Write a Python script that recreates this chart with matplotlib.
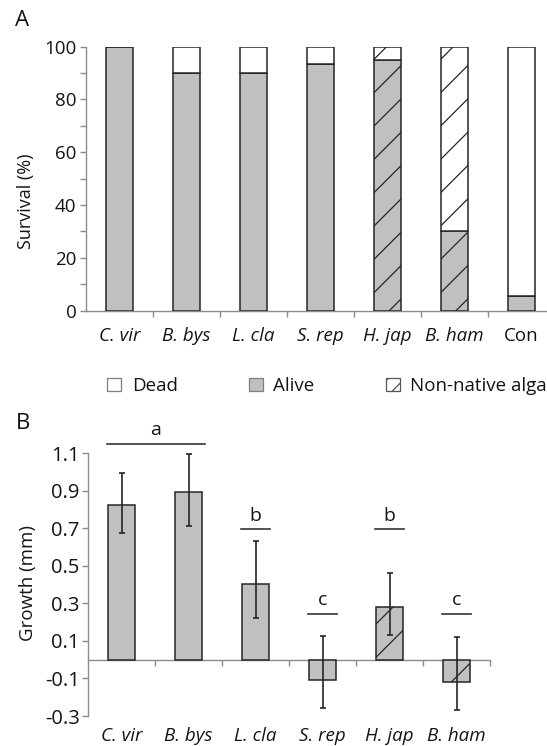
import matplotlib
matplotlib.use('Agg')
import matplotlib.pyplot as plt
from matplotlib.patches import Patch
from matplotlib.ticker import MultipleLocator, FixedLocator

plt.rcParams['font.family'] = ['Open Sans', 'DejaVu Sans']
plt.rcParams['hatch.linewidth'] = 0.9

# ---------------- Panel A data ----------------
species_a = ['C. vir', 'B. bys', 'L. cla', 'S. rep', 'H. jap', 'B. ham', 'Con']
alive = [100, 90, 90, 93.3, 95, 30, 5.6]
nonnative = [0, 0, 0, 0, 5, 70, 0]
dead = [0, 10, 10, 6.7, 0, 0, 94.4]
hatched_a = [False, False, False, False, True, True, False]
italic_a = [True, True, True, True, True, True, False]

# ---------------- Panel B data ----------------
species_b = ['C. vir', 'B. bys', 'L. cla', 'S. rep', 'H. jap', 'B. ham']
growth = [0.823, 0.893, 0.402, -0.109, 0.28, -0.118]
err_low = [0.148, 0.18, 0.181, 0.146, 0.148, 0.149]
err_high = [0.17, 0.203, 0.23, 0.234, 0.181, 0.237]
hatched_b = [False, False, False, False, True, True]
# (first bar, last bar, letter, line height)
sig_groups = [(0, 1, 'a', 1.15), (2, 2, 'b', 0.695), (3, 3, 'c', 0.246),
              (4, 4, 'b', 0.695), (5, 5, 'c', 0.246)]

GREY = '#c0c0c0'
EDGE = '#262626'
AXC = '#8c8c8c'
TXT = '#141414'
W, H = 547, 746

fig = plt.figure(figsize=(W / 100, H / 100), dpi=100)

# ---------------- Panel A ----------------
axA = fig.add_axes([86 / W, 1 - 310.5 / H, 469 / W, (310.5 - 46.7) / H])
xa = [i + 0.5 for i in range(len(species_a))]
bw = 0.4
axA.bar(xa, alive, bw, color=GREY, edgecolor=EDGE, linewidth=1.1,
        hatch=['/' if h else None for h in hatched_a], zorder=3)
bottom2 = alive
axA.bar(xa, nonnative, bw, bottom=bottom2, color='white', edgecolor=EDGE,
        linewidth=1.1, hatch=['/' if h else None for h in hatched_a], zorder=3)
bottom3 = [a + n for a, n in zip(alive, nonnative)]
dead_x = [x for x, d in zip(xa, dead) if d > 0]
dead_v = [d for d in dead if d > 0]
dead_b = [b for b, d in zip(bottom3, dead) if d > 0]
axA.bar(dead_x, dead_v, bw, bottom=dead_b, color='white', edgecolor=EDGE,
        linewidth=1.1, zorder=3)

axA.set_xlim(0, 7)
axA.set_ylim(0, 100)
for s in ['top', 'right']:
    axA.spines[s].set_visible(False)
for s in ['left', 'bottom']:
    axA.spines[s].set_color(AXC)
    axA.spines[s].set_linewidth(1.0)
axA.yaxis.set_major_locator(MultipleLocator(20))
axA.yaxis.set_minor_locator(MultipleLocator(10))
axA.tick_params(axis='y', which='both', direction='out', length=4, width=1,
                color=AXC, labelsize=13.5, labelcolor=TXT, pad=3)
axA.xaxis.set_major_locator(FixedLocator(xa))
axA.set_xticklabels(species_a)
for lab, it in zip(axA.get_xticklabels(), italic_a):
    lab.set_fontstyle('italic' if it else 'normal')
axA.xaxis.set_minor_locator(FixedLocator(list(range(1, 7))))
axA.tick_params(axis='x', which='major', length=0, labelsize=13.5,
                labelcolor=TXT, pad=12)
axA.tick_params(axis='x', which='minor', direction='out', length=4, width=1,
                color=AXC)
fig.text(26 / W, 1 - 201 / H, 'Survival (%)', rotation=90, ha='center',
         va='center', fontsize=13, color=TXT)
fig.text(22 / W, 1 - 21 / H, 'A', ha='center', va='center', fontsize=16,
         color=TXT)

# ---------------- Legend ----------------
handles = [Patch(facecolor='white', edgecolor='#7f7f7f', linewidth=0.9),
           Patch(facecolor=GREY, edgecolor='#7f7f7f', linewidth=0.9),
           Patch(facecolor='white', edgecolor='#555555', linewidth=0.9,
                 hatch='//')]
fig.legend(handles, ['Dead', 'Alive', 'Non-native alga'], loc='center',
           bbox_to_anchor=(327 / W, 1 - 386 / H), ncol=3, frameon=False,
           fontsize=13.5, handlelength=0.75, handleheight=0.75,
           handletextpad=0.55, columnspacing=3.8, labelcolor=TXT)

# ---------------- Panel B ----------------
axB = fig.add_axes([88 / W, 1 - 716 / H, 402 / W, (716 - 453.3) / H])
xb = [i + 0.5 for i in range(len(species_b))]
axB.bar(xb, growth, bw, color=GREY, edgecolor=EDGE, linewidth=1.1,
        hatch=['/' if h else None for h in hatched_b], zorder=3)
axB.errorbar(xb, growth, yerr=[err_low, err_high], fmt='none', ecolor=EDGE,
             elinewidth=1.2, capsize=2.5, capthick=1.2, zorder=4)
axB.set_xlim(0, 6)
axB.set_ylim(-0.3, 1.1)
for s in ['top', 'right']:
    axB.spines[s].set_visible(False)
axB.spines['bottom'].set_position(('data', 0))
for s in ['left', 'bottom']:
    axB.spines[s].set_color(AXC)
    axB.spines[s].set_linewidth(1.0)
axB.set_yticks([-0.3, -0.1, 0.1, 0.3, 0.5, 0.7, 0.9, 1.1])
axB.set_yticklabels(['-0.3', '-0.1', '0.1', '0.3', '0.5', '0.7', '0.9', '1.1'])
axB.tick_params(axis='y', direction='out', length=4, width=1, color=AXC,
                labelsize=14.5, labelcolor=TXT, pad=2)
axB.set_xticks(list(range(1, 7)))
axB.set_xticklabels([])
axB.tick_params(axis='x', direction='out', length=4, width=1, color=AXC)
for x, name in zip(xb, species_b):
    axB.annotate(name, xy=(x, 0), xycoords=('data', 'axes fraction'),
                 xytext=(0, -14.5), textcoords='offset points', ha='center',
                 va='center', fontsize=13.5, fontstyle='italic', color=TXT)
for i0, i1, letter, yl in sig_groups:
    x0 = xb[i0] - 0.21
    x1 = xb[i1] + 0.21 + (0.03 if i1 > i0 else 0)
    axB.plot([x0, x1], [yl, yl], color='#333333', lw=1.2, clip_on=False,
             zorder=5)
    axB.text((x0 + x1) / 2, yl + 0.025, letter, ha='center', va='bottom',
             fontsize=14, color=TXT, clip_on=False)
fig.text(28 / W, 1 - 583 / H, 'Growth (mm)', rotation=90, ha='center',
         va='center', fontsize=13.5, color=TXT)
fig.text(23 / W, 1 - 423 / H, 'B', ha='center', va='center', fontsize=16,
         color=TXT)

fig.savefig('out.png', dpi=100)
